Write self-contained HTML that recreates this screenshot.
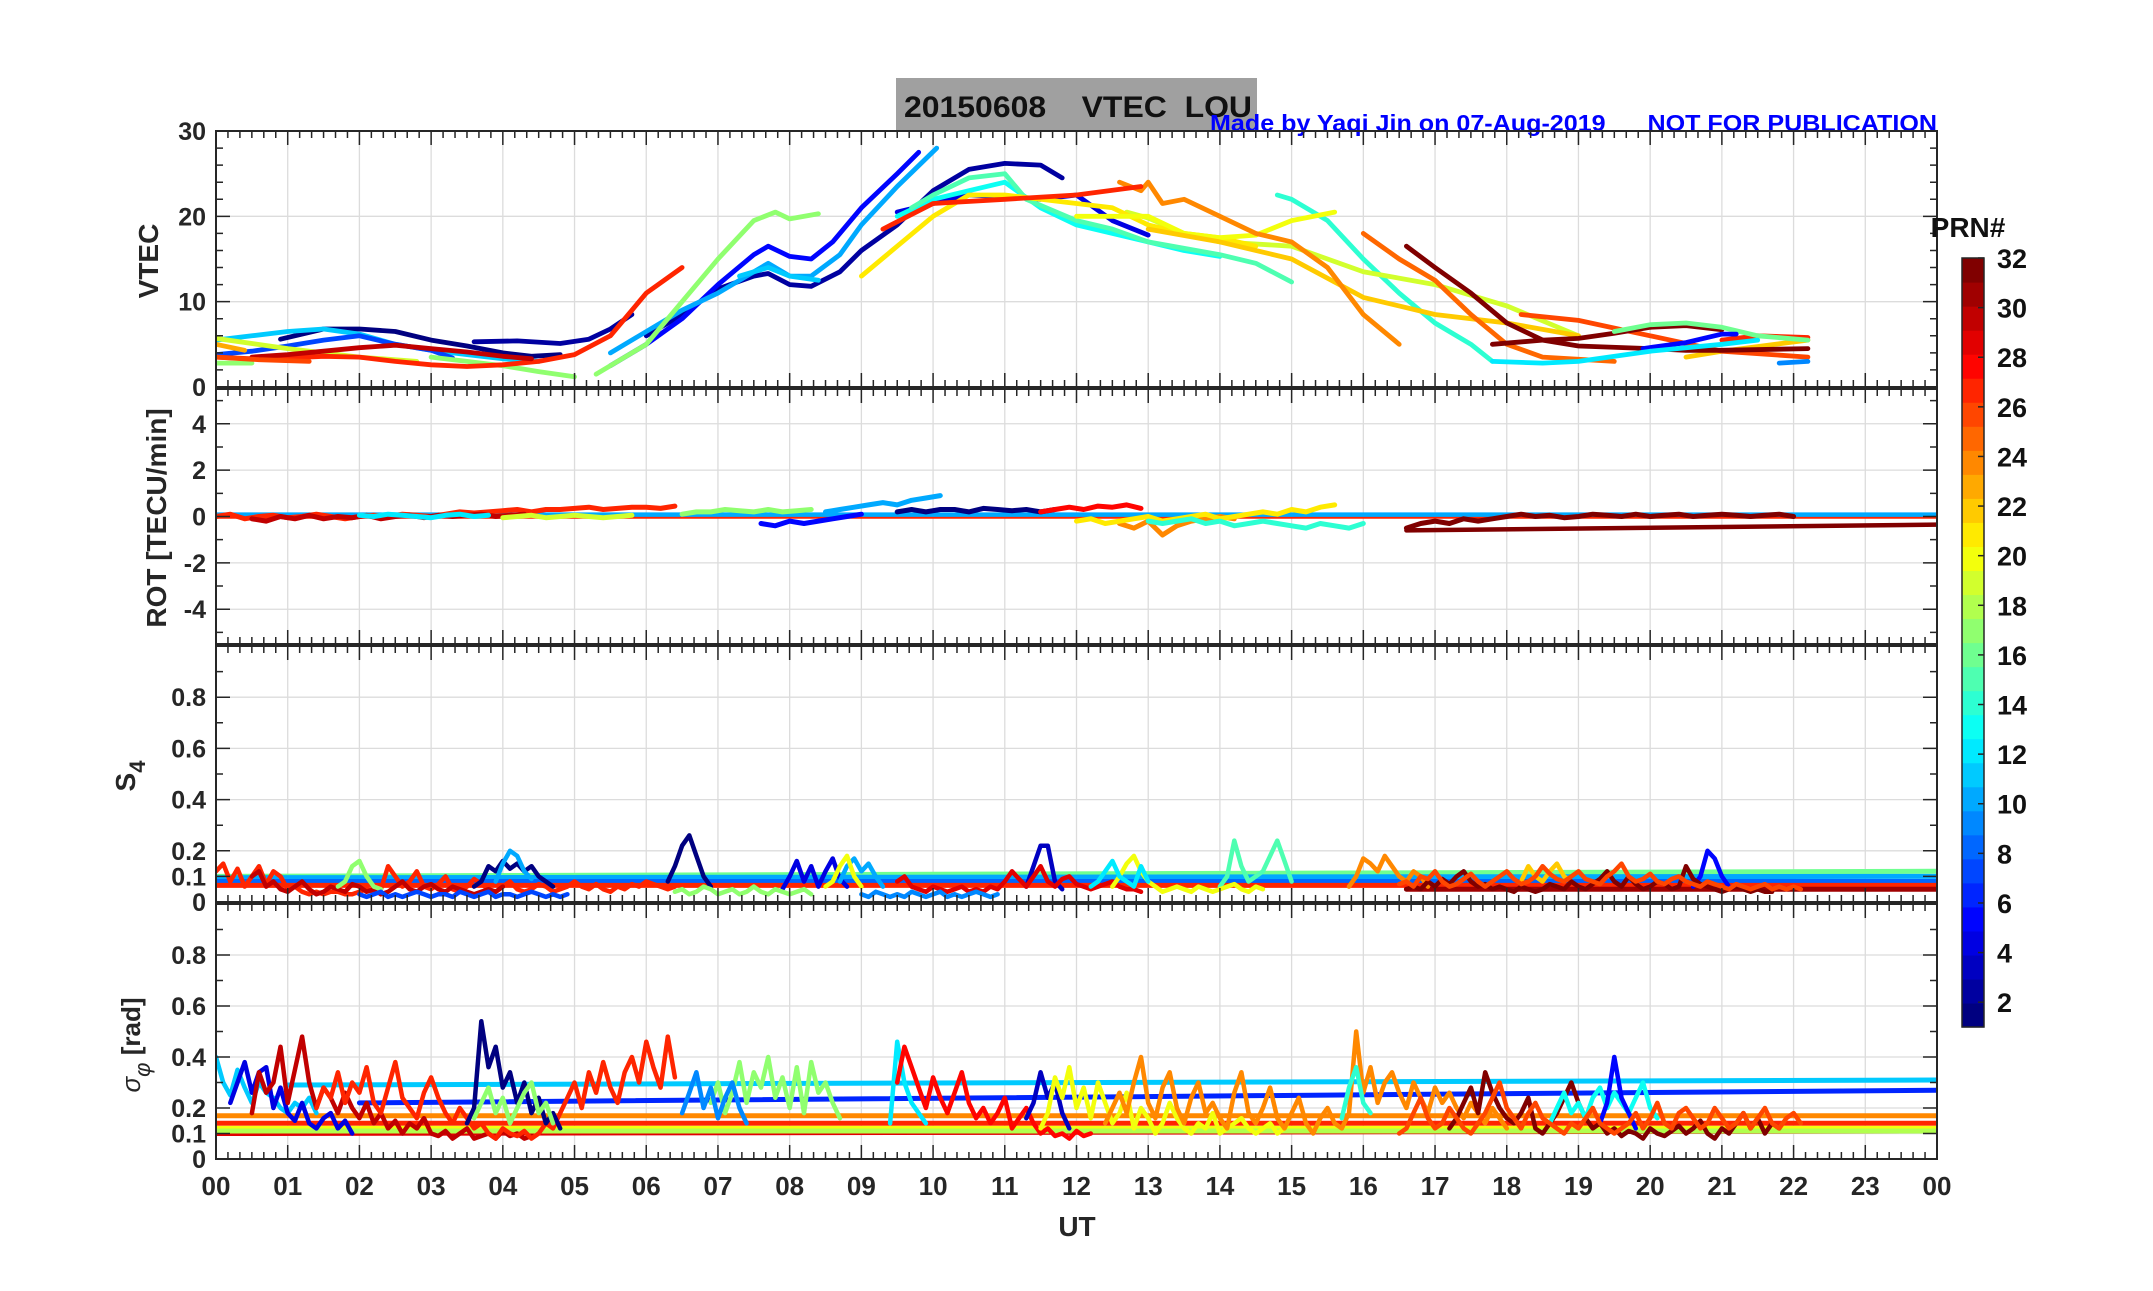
<!DOCTYPE html>
<html><head><meta charset="utf-8"><style>
html,body{margin:0;padding:0;background:#fff}
svg text{font-family:"Liberation Sans",Arial,sans-serif;font-weight:bold}
</style></head><body>
<svg id="fig" width="2153" height="1286" viewBox="0 0 2153 1286" xmlns="http://www.w3.org/2000/svg">
<rect width="2153" height="1286" fill="#fff"/>
<rect x="896" y="78" width="361" height="53" fill="#a0a0a0"/>
<text x="904" y="117" font-size="30" fill="#111" textLength="348" lengthAdjust="spacingAndGlyphs" xml:space="preserve">20150608    VTEC  LOU</text>
<text x="1210" y="131" font-size="23" fill="#0000ff" textLength="727" lengthAdjust="spacingAndGlyphs" xml:space="preserve">Made by Yaqi Jin on 07-Aug-2019      NOT FOR PUBLICATION</text>
<g id="panels"></g>
<g id="cbar"></g>
<text x="1077" y="1236" font-size="28" text-anchor="middle" fill="#262626">UT</text>
</svg>
<script>
// ---------- data ----------
const hours=["00","01","02","03","04","05","06","07","08","09","10","11","12","13","14","15","16","17","18","19","20","21","22","23","00"];
const prnTicks=[2,4,6,8,10,12,14,16,18,20,22,24,26,28,30,32];
// VTEC series: prn, times (h), values (TECU)
const vtecPrn=[1,2,2,5,4,10,11,11,7,13,14,15,17,17,17,19,19,21,20,22,22,24,25,27,27,27,26,30,32,32,16,5,9,23,26,12];
const vtecT=[
[0.9,1.5,2,2.5,3,3.5,4,4.4,4.8],
[3.6,4.2,4.8,5.2,5.5,5.8],
[6.0,6.5,7,7.5,7.7,8,8.3,8.7,9,9.5,10,10.5,11,11.5,11.8],
[5.5,6,6.5,7,7.5,7.7,8,8.3,8.6,9,9.5,9.8],
[9.5,10,10.5,11,11.5,12,12.5,13],
[5.5,6,6.5,7,7.5,7.7,8,8.3,8.7,9,9.5,10.05],
[7.3,7.7,8,8.4],
[0,0.5,1,1.5,2,2.5,3,3.5,4,4.5],
[0,0.5,1,1.5,2,2.5,3,3.3],
[9.5,10,10.5,11,11.5,12,12.5,13,13.5,14],
[14.8,15,15.5,16,16.5,17,17.5,17.8],
[9.7,10,10.5,11,11.3,12,12.5,13,14,14.5,15],
[5.3,6,6.5,7,7.5,7.8,8,8.4],
[0,0.5],
[3.0,3.5,4,4.5,5],
[12.7,13,13.5,14,15,16,17,18,19],
[0,1,2,2.8],
[9,9.5,10,10.5,11,12,12.5,13,13.5,14,14.5],
[12,13,13.5,14,14.5,15,15.6],
[13,14,15,16,17,18,19],
[20.5,21,22.2],
[12.6,12.9,13,13.2,13.5,14,14.5,15,15.5,16,16.5],
[16,16.5,17,17.5,18,18.5,19.5],
[0,0.5,1,1.5,2,2.5,3,3.5,4,4.5,5,5.5,6,6.5],
[9.3,10,11,12,12.9],
[21,21.5,22.2],
[18.2,19,20,21,22.2],
[0.5,1,1.5,2,2.5,3,3.5,4,4.4],
[16.6,17,17.5,18,18.5,19,20,20.5,21,22.2],
[17.8,18.5,19,19.5,20,20.5,21],
[19.5,20,20.5,21,21.5,22.2],
[19.9,20.5,21,21.2],
[21.8,22.2],
[0,0.4],
[0,0.6,1.3],
[17.8,18.5,19,20,21,21.5]
];
const vtecV=[
[5.6,6.8,6.8,6.5,5.5,4.8,4,3.6,3.8],
[5.3,5.4,5.1,5.6,6.8,8.5],
[6,8.5,11.5,13,13.3,12,11.8,13.5,16,19,23,25.5,26.2,26,24.5],
[2.5,5,8,12,15.5,16.5,15.3,15,17,21,25,27.5],
[20.5,21.5,22.5,22.3,22,22.5,19.5,17.8],
[4,6.5,9,11,13.5,14.5,13,13,15.5,19,23.5,28],
[13,14,13,12.5],
[5.5,6,6.5,6.8,6.2,5,4.3,3.8,3.3,3],
[3.8,4.2,4.8,5.5,6,5,4.3,3.4],
[20,22,23,24,21,19,18,17,16,15.3],
[22.5,22,19.5,15,11,7.5,5,3],
[21,22.5,24.5,25,22,19.5,18.5,17,15.5,14.5,12.3],
[1.5,5,10,15,19.5,20.5,19.7,20.3],
[2.8,2.8],
[3.5,3,2.5,1.8,1.2],
[20.5,19.8,18,17,16.5,13.5,12,9.5,6],
[5.7,4.5,3.5,3],
[13,16.5,20,22.5,22.5,21.5,21,19,18,17.5,16.5],
[20,20,18,17.5,17.8,19.5,20.5],
[18.5,17,15,10.5,8.5,7.5,6],
[3.5,4.2,5.5],
[24,23,24,21.5,22,20,18,17,14,8.5,5],
[18,15,12.5,8.5,5,3.5,3],
[3.5,3.3,3.4,3.6,3.5,3,2.6,2.4,2.6,3,3.8,6,11,14],
[18.5,21.5,22,22.5,23.5],
[5.5,6,5.8],
[8.5,7.8,6,4.2,3.5],
[3.5,3.8,4.2,4.6,4.9,4.5,4.1,3.6,3.3],
[16.5,14,11,7.5,5.5,4.8,4.5,4.3,4.3,4.5],
[5,5.5,5.7,6.3,7,7.2,6.7],
[6.5,7.3,7.5,7,6,5.5],
[4.5,5.2,6.2,6.2],
[2.8,3],
[5,4.3],
[3.5,3.2,3],
[3,2.8,3,4.2,5,5.5]
];
// ROT: prn, start time, step 0.2 h, values
const rotPrn=[27,30,17,5,10,1,28,24,21,14,32,12,19];
const rotT0=[0,0.5,6.5,7.6,8.5,9.5,11.5,12.6,12,13,16.6,2,4];
const rotV=[
[0,.1,-.1,0,.05,-.05,0,.1,0,-.1,0,.05,0,.1,.05,0,.1,.2,.15,.2,.25,.3,.2,.3,.3,.35,.4,.3,.35,.4,.4,.35,.45],
[-.1,-.2,0,-.1,.05,-.1,0,-.05,.05,-.1,0,.05,-.05,.05,0,.05,.1,0,.05,.1],
[.1,.2,.2,.3,.25,.2,.3,.2,.25,.3],
[-.3,-.4,-.2,-.3,-.2,-.1,0,.1],
[.2,.3,.4,.5,.6,.5,.7,.8,.9],
[.2,.3,.2,.3,.3,.2,.35,.3,.25,.3,.2,.3],
[.2,.3,.4,.3,.45,.4,.5,.35],
[-.3,-.5,-.2,-.8,-.4,-.2,-.1,0,-.1],
[-.2,-.1,-.3,-.2,-.1,0,-.2,-.1,0,.1,-.1,0,.1,.2,.1,.3,.2,.4,.5],
[-.2,-.3,-.2,-.1,-.3,-.2,-.4,-.3,-.2,-.3,-.4,-.5,-.3,-.4,-.5,-.3],
[-.5,-.3,-.2,-.3,-.1,-.2,-.1,0,.1,0,.05,-.05,0,.1,.05,0,.1,0,.05,.1,0,.05,.1,.05,0,.05,.1,0],
[.05,0,.1,.05,0,-.05,.05,.1,0,.05],
[-.05,0,.05,-.05,0,.05,0,-.05,0,.05]
];
const rotFlatPrn=[27,10,32];
const rotFlat=[[0,24,0,0],[0,24,0.08,0.08],[16.6,24,-0.6,-0.35]];
// S4: prn, start time, step 0.1 h, values (hundredths)
const s4Prn=[27,30,1,1,3,4,5,10,10,15,24,22,32,29,26,17,17,20,20,12,7,9];
const s4T0=[0,0.5,3.6,6.3,11.3,7.9,20.6,3.9,8.7,14,15.8,18.2,16.6,9.5,16.5,6.4,1.7,8.5,12.5,12.2,2,9];
const s4V=[
[12,15,8,13,6,10,14,7,12,10,5,6,4,3,4,3,4,4,3,3,4,5,4,5,14,10,6,8,12,6,5,7,10,5,4,6,9,7,5,4,6,8,5,4,5,7,6,4,5,6,8,6,5,7,5,4,6,5,7,6,8,7,6,5,6],
[10,12,6,8,5,4,6,8,5,3,4,6,5,4,7,6,4,5,3,4,6,8,5,4,6,7,5,4,6,5,4,3,4,5,4,6],
[6,8,14,12,16,13,15,12,14,10,8,6],
[8,14,22,26,18,10,6],
[6,14,22,22,8,5],
[5,10,16,8,14,6,12,17,9,6],
[6,10,20,17,10,6],
[8,15,20,18,12,9],
[8,14,17,12,15,10,6],
[6,10,24,14,8,10,12,18,24,16,8],
[6,10,17,15,12,18,14,10,8,12,10,6],
[8,14,10,8,12,15,10,8],
[5,6,5,8,6,9,7,10,12,8,6,7,5,6,5,4,6,5,4,5,7,6,5,8,6,5,7,9,12,8,6,10,7,5,6,8,7,5,6,14,9,7,6,5,4,5,6,5,4,5,4,4],
[8,10,6,5,4,6,5,4,5,6,4,5,4,6,5,8,12,9,6,10,14,8,6,9,10,7,6,5,6,7,8,6,5,5,4],
[7,8,6,10,9,12,8,6,7,9,11,8,6,8,10,12,9,7,8,10,14,11,9,8,10,12,9,8,7,10,12,15,10,8,9,11,8,7,9,10,8,7,6,8,7,6,5,7,6,5,6,7,5,6,5,6,5],
[4,5,3,4,6,5,3,4,5,3,4,6,4,3,5,4,3,4,5,3],
[6,8,14,16,10,6,5],
[6,8,14,18,10,6],
[6,10,15,18,12,8,6,4,5,6,5,4,6,5,4,5,6,7,5,4,6,5],
[6,8,12,16,10,8,6,14,8],
[3,2,3,4,2,3,2,3,4,3,2,3,3,2,4,3,2,3,4,2,3,3,2,3,4,3,2,3,2,3],
[3,2,4,3,2,3,2,4,3,2,3,4,2,3,2,3,4,3,2,3]
];
const s4FlatPrn=[16,10,8,27,31];
const s4Flat=[[0,24,0.1,0.12],[0,24,0.095,0.1],[0,24,0.08,0.08],[0,24,0.065,0.065],[16.6,24,0.05,0.05]];
// sigma-phi: prn, start time, step 0.1 h, values (hundredths)
const sigPrn=[11,4,30,27,1,17,17,9,12,28,3,20,24,14,32,13,5,26];
const sigT0=[0,0.2,0.5,1.4,3.5,3.6,6.9,6.5,9.4,9.5,11.3,11.5,12.4,15.7,17.2,18.6,19.3,16.5];
const sigV=[
[40,30,25,35,28,22,30,26,24,20,18,22,20,24,18],
[22,30,38,26,34,36,20,28,18,15,22,14,12,16,18,12,15,10],
[18,34,26,30,44,22,35,48,30,20,28,24,18,26,20,16,22,14,18,12,15,10,14,12,16,10,9,11,8,10,12,8,9,10,8,11,9,10,8,9],
[20,28,24,34,22,30,26,36,22,18,28,38,24,20,16,26,32,24,18,14,20,16,12,14,10,8,12,10,9,11,8,10,14,12,18,24,30,20,34,26,38,28,22,34,40,30,46,36,28,48,32],
[14,20,54,36,44,28,34,22,30,18,24,14,18,12],
[16,22,28,18,24,14,20,26,30,18,22,14],
[22,30,18,26,38,22,34,28,40,24,32,20,36,18,38,26,30,22,16],
[18,26,34,20,28,16,24,30,20,14],
[14,46,30,22,18,14],
[30,44,36,28,20,32,24,18,26,34,22,16,20,14,18,24,12,16,20,14,10,12,9,10,8,11,9,10],
[16,22,34,24,30,18,12],
[12,18,32,24,36,20,28,16,30,22,14,18,26,12,20,16,10,14,22,16,12,10,14,12,18,10,12,14,16,12,10,12,14,10,12],
[14,20,26,18,30,40,22,16,28,34,20,14,24,30,18,22,16,12,26,34,18,14,20,28,16,12,18,24,14,10,16,20,14,12,18,50,26,36,22,30,34,26,20,30,24,18,28,22,26,20,16,22,18,14,20,16,12],
[16,28,36,22,18],
[12,16,22,28,18,34,26,20,16,14,18,24,12,10,14,18,24,30,22,16,12,14,10,12,9,11,10,8,12,10,9,11,13,10,12,15,10,8,12,10,14,18,12,16,10,14,12],
[14,20,26,18,22,16,24,28,20,26,22,18,24,30,20,16],
[14,22,40,24,18,12],
[10,12,18,24,16,12,14,20,16,12,10,14,18,24,30,20,16,12,18,22,16,14,12,10,14,12,16,20,14,12,10,12,14,18,12,16,22,14,12,18,20,16,12,14,20,16,12,14,18,12,16,20,14,12,16,18,14]
];
const sigFlatPrn=[11,6,24,27,29,20,18];
const sigFlat=[[1,24,0.29,0.31],[2,24,0.22,0.27],[0,24,0.17,0.17],[0,24,0.14,0.14],[0,24,0.1,0.11],[0,24,0.12,0.12],[0,24,0.11,0.11]];

// ---------- layout ----------
const L=216,R=1937;
const panelDefs=[
 {name:"vtec",top:131,bot:387,min:0,max:30,labels:[0,10,20,30],minor:2},
 {name:"rot",top:389,bot:644,min:-5.5,max:5.5,labels:[-4,-2,0,2,4],minor:1},
 {name:"s4",top:646,bot:902,min:0,max:1,labels:[0,0.1,0.2,0.4,0.6,0.8],minor:0.1},
 {name:"sigma",top:904,bot:1159,min:0,max:1,labels:[0,0.1,0.2,0.4,0.6,0.8],minor:0.1}
];
const NS="http://www.w3.org/2000/svg";
const svg=document.getElementById('fig');
const G=document.getElementById('panels');
function el(tag,attrs,parent){const e=document.createElementNS(NS,tag);for(const k in attrs)e.setAttribute(k,attrs[k]);(parent||G).appendChild(e);return e;}
function xs(h){return L+h/24*(R-L);}
function jet(p){const t=(p-1)/31;const f=v=>Math.max(0,Math.min(1,v));
 const r=f(Math.min(4*t-1.5,-4*t+4.5)),g=f(Math.min(4*t-0.5,-4*t+3.5)),b=f(Math.min(4*t+0.5,-4*t+2.5));
 return `rgb(${Math.round(r*255)},${Math.round(g*255)},${Math.round(b*255)})`;}
function fmt(v){return (Math.abs(v)<1&&v!==0)?v.toFixed(1):String(v);}

panelDefs.forEach((P,pi)=>{
 const ys=v=>P.bot-(v-P.min)/(P.max-P.min)*(P.bot-P.top);
 P.ys=ys;
 const g=el('g',{});
 
 
 const cp=el('clipPath',{id:'clip'+pi},g);
 el('rect',{x:L,y:P.top,width:R-L,height:P.bot-P.top},cp);
 for(let h=1;h<24;h++){const gl=el('line',{x1:xs(h),x2:xs(h),y1:P.top,y2:P.bot,stroke:'#dcdcdc','stroke-width':1.3},g);
  }
 P.labels.forEach(v=>{if(v===P.min)return;const gl=el('line',{x1:L,x2:R,y1:ys(v),y2:ys(v),stroke:'#dcdcdc','stroke-width':1.3},g);
  });
 P.g=g;
});

function poly(P,pi,pts,color,w,name){
 const pl=el('polyline',{points:pts.map(p=>p[0].toFixed(1)+','+p[1].toFixed(1)).join(' '),fill:'none',stroke:color,'stroke-width':w,'stroke-linejoin':'round','stroke-linecap':'round','clip-path':`url(#clip${pi})`},P.g);
 
 
}
{const P=panelDefs[0];
 vtecT.forEach((ts,i)=>poly(P,0,ts.map((t,j)=>[xs(t),P.ys(vtecV[i][j])]),jet(vtecPrn[i]),4.8,'vtec-line-prn'+vtecPrn[i]));}
function flats(P,pi,prns,arr,w,nm){arr.forEach((f,i)=>poly(P,pi,[[xs(f[0]),P.ys(f[2])],[xs(f[1]),P.ys(f[3])]],jet(prns[i]),w,nm+'-baseline-prn'+prns[i]));}
function noisy(P,pi,prns,t0s,vals,dt,scale,w,nm){vals.forEach((vs,i)=>poly(P,pi,vs.map((v,j)=>[xs(t0s[i]+j*dt),P.ys(v*scale)]),jet(prns[i]),w,nm+'-line-prn'+prns[i]));}
{const P=panelDefs[1];flats(P,1,rotFlatPrn,rotFlat,4.5,'rot');noisy(P,1,rotPrn,rotT0,rotV,0.2,1,5,'rot');}
{const P=panelDefs[2];flats(P,2,s4FlatPrn,s4Flat,5,'s4');noisy(P,2,s4Prn,s4T0,s4V,0.1,0.01,4.5,'s4');}
{const P=panelDefs[3];flats(P,3,sigFlatPrn,sigFlat,5,'sigma');noisy(P,3,sigPrn,sigT0,sigV,0.1,0.01,4.5,'sigma');}

panelDefs.forEach((P,pi)=>{
 const g=P.g;
 const box=el('rect',{x:L,y:P.top,width:R-L,height:P.bot-P.top,fill:'none',stroke:'#262626','stroke-width':2},g);
 
 let d='';
 for(let m=0;m<=24*6;m++){const x=xs(m/6);const len=(m%6===0)?14:7;d+=`M${x} ${P.bot}v${-len}M${x} ${P.top}v${len}`;}
 for(let v=P.min+(pi===1?0.5:0);v<=P.max+1e-9;v+=P.minor){const y=P.ys(v);const len=(P.labels.some(l=>Math.abs(l-v)<1e-6))?14:7;d+=`M${L} ${y}h${len}M${R} ${y}h${-len}`;}
 const tk=el('path',{d:d,stroke:'#262626','stroke-width':1.5,fill:'none'},g);
 
 P.labels.forEach(v=>{const t=el('text',{x:L-10,y:P.ys(v)+9,'font-size':25,'text-anchor':'end',fill:'#262626'},g);t.textContent=fmt(v);
  });
});
hours.forEach((h,i)=>{const t=el('text',{x:xs(i),y:1195,'font-size':26,'text-anchor':'middle',fill:'#262626'});t.textContent=h;
 });

function ylab(txt,x,y,name,fs){const t=el('text',{x:0,y:0,'font-size':fs||28,'text-anchor':'middle',fill:'#262626',transform:`translate(${x},${y}) rotate(-90)`});t.innerHTML=txt;
 return t;}
ylab('VTEC',158,261,'vtec-axis-title');
ylab('ROT [TECU/min]',166,518,'rot-axis-title');
ylab('S<tspan dy="10" font-size="22">4</tspan>',135,776,'s4-axis-title');
ylab('<tspan font-style="italic" font-weight="normal">σ</tspan><tspan dy="10" font-size="22" font-style="italic" font-weight="normal">φ</tspan><tspan dy="-10"> [rad]</tspan>',140,1045,'sigma-axis-title',26);

const C=document.getElementById('cbar');
const cbTop=258,cbBot=1027,cbL=1962,cbW=22;
for(let p=1;p<=32;p++){const h=(cbBot-cbTop)/32;const r=el('rect',{x:cbL,y:cbBot-p*h,width:cbW,height:h+0.6,fill:jet(p)},C);
 }
const cbo=el('rect',{x:cbL,y:cbTop,width:cbW,height:cbBot-cbTop,fill:'none',stroke:'#262626','stroke-width':1.5},C);

prnTicks.forEach(p=>{const y=cbBot-(p-1)/31*(cbBot-cbTop);
 el('line',{x1:cbL+cbW-6,x2:cbL+cbW,y1:y,y2:y,stroke:'#262626','stroke-width':1.5},C);
 const t=el('text',{x:1997,y:y+10,'font-size':27,fill:'#111'},C);t.textContent=p;
 });
const pt=el('text',{x:1968,y:237,'font-size':28,'text-anchor':'middle',fill:'#111'},C);pt.textContent='PRN#';

</script>
</body></html>
